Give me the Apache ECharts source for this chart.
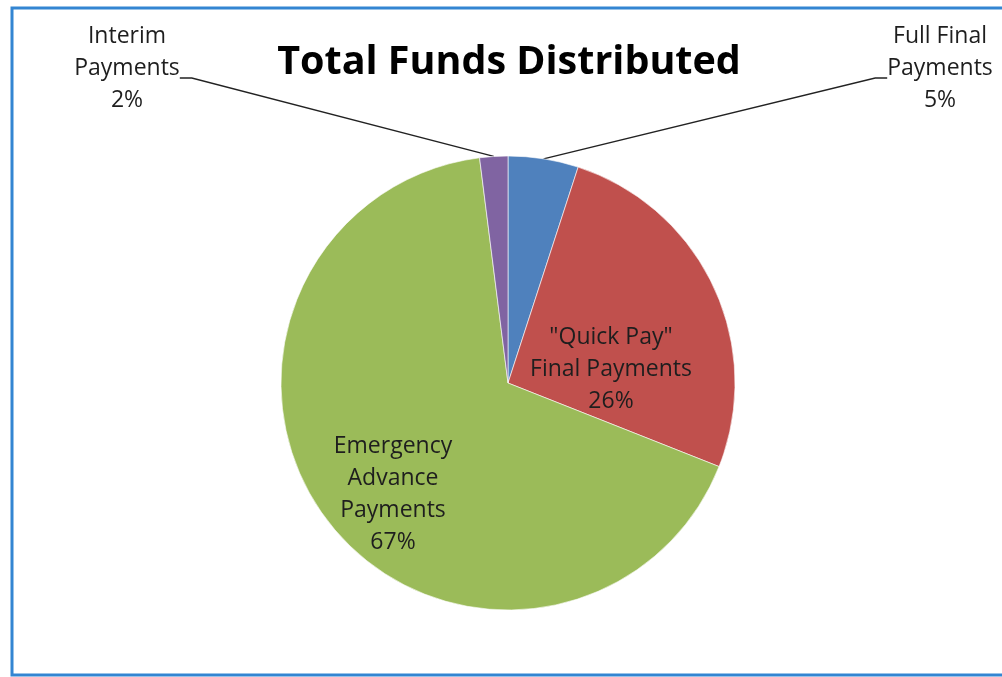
<!DOCTYPE html>
<html>
<head>
<meta charset="utf-8">
<script src="https://cdn.jsdelivr.net/npm/echarts@6/dist/echarts.min.js"></script>
<style>
html,body{margin:0;padding:0;background:#fff;}
#chart{width:1002px;height:677px;}
</style>
</head>
<body>
<div id="chart"></div>
<script>
const title = 'Total Funds Distributed';
const categories = ['Full Final\nPayments', '"Quick Pay"\nFinal Payments', 'Emergency\nAdvance\nPayments', 'Interim\nPayments'];
const values = [5, 26, 67, 2];
const colors = ['#4F81BD', '#C0504D', '#9BBB59', '#8064A2'];
const outside = [true, false, false, true];

// label placement (layout only)
const labelPlaces = [[940, 78], [611, 369], [393, 494], [127, 78]];

const chart = echarts.init(document.getElementById('chart'));
const FONT = '"Open Sans", "Noto Sans", sans-serif';

chart.setOption({
  animation: false,
  backgroundColor: '#ffffff',
  title: {
    text: title,
    left: 504, top: 38, textAlign: 'center',
    textStyle: { fontFamily: FONT, fontWeight: 'bold', fontSize: 39.5, color: '#000' }
  },
  graphic: [{
    type: 'rect', silent: true,
    shape: { x: 12, y: 8, width: 1000, height: 667 },
    style: { fill: 'none', stroke: '#3385d2', lineWidth: 3 }
  }],
  series: [{
    type: 'pie',
    center: [508, 383],
    radius: 227,
    startAngle: 90,
    clockwise: true,
    percentPrecision: 0,
    emphasis: { disabled: true },
    itemStyle: { borderColor: 'rgba(255,255,255,0.6)', borderWidth: 1 },
    label: {
      formatter: function (p) {
        const base = p.name + '\n' + p.percent + '%';
        return outside[p.dataIndex] ? base + '\n{s| }' : base;
      },
      fontFamily: FONT, fontSize: 23, lineHeight: 32,
      color: '#1e1e1e', align: 'center',
      rich: { s: { fontSize: 10, lineHeight: 20 } }
    },
    labelLine: { lineStyle: { color: '#222', width: 1.3 }, length2: 12, minTurnAngle: 0 },
    labelLayout: function (p) {
      const pl = labelPlaces[p.dataIndex];
      return { x: pl[0], y: pl[1], align: 'center', verticalAlign: 'middle' };
    },
    data: categories.map((c, i) => ({
      name: c,
      value: values[i],
      itemStyle: { color: colors[i] },
      label: { position: outside[i] ? 'outside' : 'inside' },
      labelLine: { show: outside[i] }
    }))
  }]
});
</script>
</body>
</html>
